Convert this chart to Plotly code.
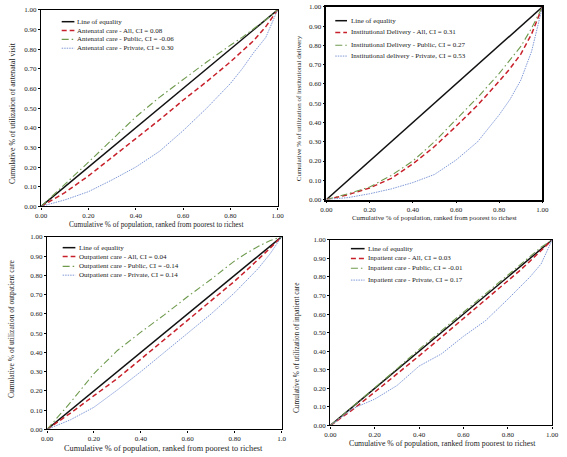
import plotly.graph_objects as go

# ---------------- data ----------------
pop_share = [0, 0.1, 0.2, 0.3, 0.4, 0.5, 0.6, 0.7, 0.8, 0.85, 0.9, 0.95, 1.0]
equality_x = [0, 1]
equality_y = [0, 1]

anc_all = [0, 0.07, 0.155, 0.25, 0.345, 0.44, 0.54, 0.635, 0.735, 0.79, 0.845, 0.915, 1.0]
anc_public = [0, 0.11, 0.225, 0.34, 0.455, 0.555, 0.645, 0.735, 0.82, 0.86, 0.905, 0.95, 1.0]
anc_private = [0, 0.033, 0.075, 0.135, 0.2, 0.28, 0.385, 0.5, 0.625, 0.7, 0.785, 0.86, 1.0]

del_all = [0, 0.025, 0.06, 0.11, 0.185, 0.275, 0.38, 0.49, 0.615, 0.68, 0.755, 0.86, 1.0]
del_public = [0, 0.03, 0.065, 0.125, 0.2, 0.3, 0.415, 0.53, 0.655, 0.725, 0.795, 0.89, 1.0]
del_private = [0, 0.01, 0.03, 0.055, 0.088, 0.13, 0.205, 0.3, 0.44, 0.52, 0.62, 0.77, 1.0]

opd_all = [0, 0.085, 0.175, 0.265, 0.365, 0.465, 0.565, 0.665, 0.77, 0.825, 0.88, 0.94, 1.0]
opd_public = [0, 0.14, 0.29, 0.41, 0.505, 0.595, 0.69, 0.78, 0.875, 0.915, 0.95, 0.98, 1.0]
opd_private = [0, 0.05, 0.115, 0.205, 0.3, 0.4, 0.5, 0.6, 0.71, 0.77, 0.835, 0.91, 1.0]

ipd_all = [0, 0.085, 0.18, 0.275, 0.375, 0.475, 0.575, 0.675, 0.78, 0.83, 0.885, 0.94, 1.0]
ipd_public = [0, 0.1, 0.205, 0.305, 0.41, 0.51, 0.61, 0.71, 0.81, 0.86, 0.91, 0.96, 1.0]
ipd_private = [0, 0.09, 0.142, 0.215, 0.32, 0.385, 0.48, 0.565, 0.68, 0.74, 0.8, 0.87, 1.0]

x_ticks = [0, 0.2, 0.4, 0.6, 0.8, 1.0]
x_ticklabels = ["0.00", "0.20", "0.40", "0.60", "0.80", "1.00"]
x_ticklabels_opd = ["0.00", "0.20", "0.40", "0.60", "0.80", "1.0"]
y_ticks = [0, 0.1, 0.2, 0.3, 0.4, 0.5, 0.6, 0.7, 0.8, 0.9, 1.0]
y_ticklabels = ["0.00", "0.10", "0.20", "0.30", "0.40", "0.50", "0.60", "0.70", "0.80", "0.90", "1.00"]

names_anc = ["Line of equality", "Antenatal care - All, CI = 0.08",
             "Antenatal care - Public, CI = -0.06", "Antenatal care - Private, CI = 0.30"]
names_del = ["Line of equality", "Institutional Delivery - All, CI = 0.31",
             "Institutional Delivery - Public, CI = 0.27", "Institutional delivery - Private, CI = 0.53"]
names_opd = ["Line of equality", "Outpatient care - All, CI = 0.04",
             "Outpatient care - Public, CI = -0.14", "Outpatient care - Private, CI = 0.14"]
names_ipd = ["Line of equality", "Inpatient care - All, CI = 0.03",
             "Inpatient care - Public, CI = -0.01", "Inpatient care - Private, CI = 0.17"]

x_title = "Cumulative % of population, ranked from poorest to richest"
y_titles = ["Cumulative % of utilization of antenatal visit",
            "Cumulative % of utilization of institutional delivery",
            "Cumulative % of utilization of outpatient care",
            "Cumulative % of utilization of inpatient care"]

# ---------------- styling ----------------
W, H = 567, 457
FONT = "Liberation Serif, Times New Roman, serif"
TXT = "#222222"
styles = [
    dict(color="#111111", width=1.5, dash="solid"),
    dict(color="#c8202a", width=1.5, dash="5px,3px"),
    dict(color="#6f9a4e", width=1.1, dash="7px,3px,1.5px,3px"),
    dict(color="#7f98d6", width=1.0, dash="1.5px,1px"),
]

def px2paper_x(px):
    return px / W

def px2paper_y(py):
    return 1 - py / H

# panels: plot-area pixel boxes (left, top, right, bottom)
panels = [
    dict(box=(36, 6, 278, 206), series=(anc_all, anc_public, anc_private), names=names_anc,
         xlabels=x_ticklabels, frame=1.3,
         leg_rows=(18, 27, 36, 45), leg_x=(57, 70), leg_text=71,
         xt=(154, 224, 7.3), yt=(6, 111, 7.8)),
    dict(box=(328, 3, 549, 199), series=(del_all, del_public, del_private), names=names_del,
         xlabels=x_ticklabels, frame=1.8,
         leg_rows=(17, 29, 42, 53), leg_x=(337, 349), leg_text=351,
         xt=(439, 217, 6.9), yt=(300, 106, 7.0)),
    dict(box=(42, 237, 282, 433), series=(opd_all, opd_public, opd_private), names=names_opd,
         xlabels=x_ticklabels_opd, frame=1.4,
         leg_rows=(248, 257, 267, 276), leg_x=(58, 71), leg_text=73,
         xt=(161, 452, 8.3), yt=(5, 330, 7.5)),
    dict(box=(332, 240, 559, 429), series=(ipd_all, ipd_public, ipd_private), names=names_ipd,
         xlabels=x_ticklabels, frame=1.4,
         leg_rows=(249, 259, 269, 281), leg_x=(353, 367), leg_text=368,
         xt=(447, 447, 7.8), yt=(298, 350, 7.3)),
]

fig = go.Figure()
shapes = []
annotations = []
layout = dict(
    width=W, height=H, margin=dict(l=0, r=0, t=0, b=0),
    paper_bgcolor="white", plot_bgcolor="white", showlegend=False,
    font=dict(family=FONT, size=7, color=TXT),
)

for i, p in enumerate(panels):
    k = "" if i == 0 else str(i + 1)
    xa, ya = "x" + k, "y" + k
    l, t, r, b = p["box"]
    fig.add_trace(go.Scatter(x=equality_x, y=equality_y, mode="lines", name=p["names"][0],
                             line=styles[0], xaxis=xa, yaxis=ya, hoverinfo="skip"))
    for j, ser in enumerate(p["series"]):
        fig.add_trace(go.Scatter(x=pop_share, y=ser, mode="lines", name=p["names"][j + 1],
                                 line=styles[j + 1], xaxis=xa, yaxis=ya))
    axcommon = dict(range=[0, 1], showgrid=False, zeroline=False, showline=True, mirror=True,
                    linecolor="black", linewidth=p["frame"], ticks="outside", ticklen=2,
                    tickwidth=1, tickcolor="black", tickfont=dict(family=FONT, size=7, color=TXT),
                    fixedrange=True)
    layout["xaxis" + k] = dict(axcommon, domain=[px2paper_x(l), px2paper_x(r)], anchor=ya,
                               tickvals=x_ticks, ticktext=p["xlabels"])
    layout["yaxis" + k] = dict(axcommon, domain=[px2paper_y(b), px2paper_y(t)], anchor=xa,
                               tickvals=y_ticks, ticktext=y_ticklabels)
    for j in range(4):
        yy = px2paper_y(p["leg_rows"][j])
        st = styles[j]
        shapes.append(dict(type="line", xref="paper", yref="paper",
                           x0=px2paper_x(p["leg_x"][0]), x1=px2paper_x(p["leg_x"][1]), y0=yy, y1=yy,
                           line=dict(color=st["color"], width=st["width"], dash=st["dash"])))
        annotations.append(dict(xref="paper", yref="paper", x=px2paper_x(p["leg_text"]), y=yy,
                                xanchor="left", yanchor="middle", showarrow=False,
                                text=p["names"][j], font=dict(family=FONT, size=7, color=TXT)))
    xx, xy, xs = p["xt"]
    annotations.append(dict(xref="paper", yref="paper", x=px2paper_x(xx), y=px2paper_y(xy),
                            xanchor="center", yanchor="middle", showarrow=False, text=x_title,
                            font=dict(family=FONT, size=xs, color=TXT)))
    yx, yy2, ys = p["yt"]
    annotations.append(dict(xref="paper", yref="paper", x=px2paper_x(yx), y=px2paper_y(yy2),
                            xanchor="center", yanchor="middle", showarrow=False, text=y_titles[i],
                            textangle=-90, font=dict(family=FONT, size=ys, color=TXT)))

layout["shapes"] = shapes
layout["annotations"] = annotations
fig.update_layout(**layout)
fig.write_html("out.html", config={"displayModeBar": False},
               post_script="document.body.style.margin='0';document.body.style.padding='0';"
                           "document.body.style.overflow='hidden';")
